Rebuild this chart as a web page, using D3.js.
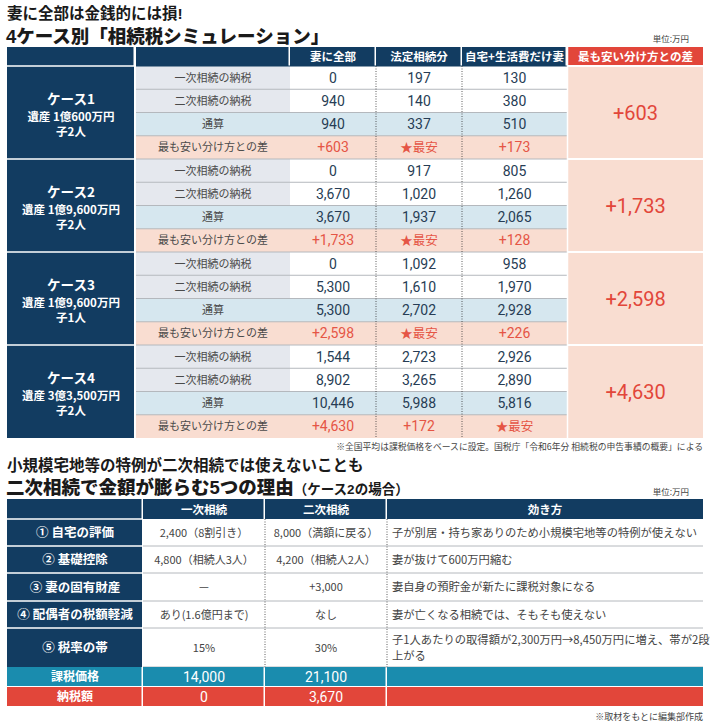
<!DOCTYPE html>
<html>
<head>
<meta charset="utf-8">
<script src="https://cdn.jsdelivr.net/npm/d3@7"></script>
<style>
  body { margin: 0; background: #fff; }
  text { font-family: "Noto Sans CJK JP", "Noto Sans", sans-serif; }
  .num { font-family: "Liberation Sans Narrow", "Roboto", "Noto Sans CJK JP", sans-serif; }
  .ttl { font-family: "Liberation Sans", "Noto Sans CJK JP", sans-serif; }
</style>
</head>
<body>
<div id="chart"></div>
<script>
// ---------------- data (万円) ----------------
var caseNames = ["ケース1", "ケース2", "ケース3", "ケース4"];
var caseEstates = ["遺産 1億600万円", "遺産 1億9,600万円", "遺産 1億9,600万円", "遺産 3億3,500万円"];
var caseChildren = ["子2人", "子2人", "子1人", "子2人"];
var rowLabels = ["一次相続の納税", "二次相続の納税", "通算", "最も安い分け方との差"];
var planNames = ["妻に全部", "法定相続分", "自宅+生活費だけ妻"];
var diffHeader = "最も安い分け方との差";
var firstTax  = [[0, 197, 130], [0, 917, 805], [0, 1092, 958], [1544, 2723, 2926]];
var secondTax = [[940, 140, 380], [3670, 1020, 1260], [5300, 1610, 1970], [8902, 3265, 2890]];
var totalTax  = [[940, 337, 510], [3670, 1937, 2065], [5300, 2702, 2928], [10446, 5988, 5816]];
var gapToBest = [[603, null, 173], [1733, null, 128], [2598, null, 226], [4630, 172, null]]; // null = ★最安
var caseGap = [603, 1733, 2598, 4630];

var reasonLabels = ["① 自宅の評価", "② 基礎控除", "③ 妻の固有財産", "④ 配偶者の税額軽減", "⑤ 税率の帯"];
var reasonHeads = ["一次相続", "二次相続", "効き方"];
var reasonFirst = ["2,400（8割引き）", "4,800（相続人3人）", "—", "あり(1.6億円まで)", "15%"];
var reasonSecond = ["8,000（満額に戻る）", "4,200（相続人2人）", "+3,000", "なし", "30%"];
var reasonEffect = [
  ["子が別居・持ち家ありのため小規模宅地等の特例が使えない"],
  ["妻が抜けて600万円縮む"],
  ["妻自身の預貯金が新たに課税対象になる"],
  ["妻が亡くなる相続では、そもそも使えない"],
  ["子1人あたりの取得額が2,300万円→8,450万円に増え、帯が2段", "上がる"]
];
var taxableBase = [14000, 21100];
var taxPaid = [0, 3670];

// ---------------- setup ----------------
var W = 710, H = 725;
var navy = "#123c61", red = "#e2463a", salmon = "#f9ddd1", paleBlue = "#d6e7ef",
    paleGrey = "#e5e8ee", teal = "#1a8cae", lineGrey = "#b4b8bd", numColor = "#273d55";
var fmt = d3.format(",");

var svg = d3.select("#chart").append("svg").attr("width", W).attr("height", H);

// titles
svg.append("text").attr("class", "ttl").attr("x", 7).attr("y", 19).attr("font-size", 15.5).attr("font-weight", 700)
  .attr("fill", "#1a1a1a").text("妻に全部は金銭的には損!");
svg.append("text").attr("class", "ttl").attr("x", 6).attr("y", 43).attr("font-size", 18.5).attr("font-weight", 900)
  .attr("fill", "#1a1a1a").text("4ケース別「相続税シミュレーション」");
svg.append("text").attr("x", 689).attr("y", 42).attr("font-size", 8.5).attr("text-anchor", "end")
  .attr("fill", "#444").text("単位:万円");

// ---------------- table 1 ----------------
var t1 = { top: 47, headH: 19, bottom: 438 };
var colX = d3.scaleOrdinal().domain(["case", "label", 0, 1, 2, "gap"]).range([7, 136, 290, 376, 462, 568]);
var colW = d3.scaleOrdinal().domain(["case", "label", 0, 1, 2, "gap"]).range([128, 154, 86, 86, 105, 135]);
var caseY = d3.scaleBand().domain(d3.range(caseNames.length)).range([t1.top + t1.headH, t1.bottom]);
var rowY = d3.scaleBand().domain(d3.range(rowLabels.length)).range([0, caseY.bandwidth()]);

// header
var heads = [{ k: "case", t: "" }, { k: "label", t: "" }]
  .concat(planNames.map(function (p, i) { return { k: i, t: p }; }))
  .concat([{ k: "gap", t: diffHeader }]);
var hd = svg.append("g").selectAll("g").data(heads).join("g");
hd.append("rect").attr("x", function (d) { return colX(d.k); }).attr("y", t1.top)
  .attr("width", function (d) { return colW(d.k) - (d.k === "gap" ? 0 : 1.5); }).attr("height", t1.headH)
  .attr("fill", function (d) { return d.k === "gap" ? red : navy; });
hd.append("text").attr("x", function (d) { return colX(d.k) + colW(d.k) / 2; }).attr("y", t1.top + 14)
  .attr("text-anchor", "middle").attr("font-size", 11.5).attr("font-weight", 700).attr("fill", "#fff")
  .text(function (d) { return d.t; });

var rowFill = [null, null, paleBlue, salmon];
var cases = svg.append("g").selectAll("g").data(caseNames).join("g")
  .attr("transform", function (d, i) { return "translate(0," + caseY(i) + ")"; });

// case block
cases.append("rect").attr("x", colX("case")).attr("y", 0).attr("width", colW("case") - 1).attr("height", caseY.bandwidth())
  .attr("fill", navy);
cases.append("line").attr("x1", colX("case")).attr("x2", colX("case") + colW("case") - 1).attr("y1", 0).attr("y2", 0)
  .attr("stroke", "#fff").attr("stroke-width", 1.5);
cases.append("text").attr("x", colX("case") + colW("case") / 2).attr("y", 38).attr("text-anchor", "middle")
  .attr("font-size", 13.5).attr("font-weight", 700).attr("fill", "#fff").text(function (d) { return d; });
cases.append("text").attr("x", colX("case") + colW("case") / 2).attr("y", 55).attr("text-anchor", "middle")
  .attr("font-size", 11.5).attr("font-weight", 700).attr("fill", "#fff").text(function (d, i) { return caseEstates[i]; });
cases.append("text").attr("x", colX("case") + colW("case") / 2).attr("y", 70).attr("text-anchor", "middle")
  .attr("font-size", 11.5).attr("font-weight", 700).attr("fill", "#fff").text(function (d, i) { return caseChildren[i]; });

// rows
cases.each(function (c, ci) {
  var g = d3.select(this);
  var values = [firstTax[ci], secondTax[ci], totalTax[ci], gapToBest[ci]];
  rowLabels.forEach(function (lab, ri) {
    var y = rowY(ri), h = rowY.bandwidth();
    g.append("rect").attr("x", colX("label")).attr("y", y).attr("width", colW("label")).attr("height", h)
      .attr("fill", rowFill[ri] || paleGrey);
    g.append("rect").attr("x", colX(0)).attr("y", y).attr("width", colX(2) + colW(2) - colX(0)).attr("height", h)
      .attr("fill", rowFill[ri] || "#fff");
    g.append("text").attr("x", colX("label") + colW("label") / 2).attr("y", y + h / 2 + 4).attr("text-anchor", "middle")
      .attr("font-size", 11).attr("fill", "#4a4a4a").text(lab);
    values[ri].forEach(function (v, pi) {
      var best = (ri === 3 && v === null);
      g.append("text").attr("class", best ? null : "num")
        .attr("x", colX(pi) + colW(pi) / 2).attr("y", y + h / 2 + 5).attr("text-anchor", "middle")
        .attr("font-size", best ? 12.5 : 14).attr("fill", ri === 3 ? "#e55545" : numColor)
        .text(ri === 3 ? (best ? "★最安" : "+" + fmt(v)) : fmt(v));
    });
    if (ri > 0) {
      g.append("line").attr("x1", colX("label")).attr("x2", colX(2) + colW(2)).attr("y1", y).attr("y2", y)
        .attr("stroke", lineGrey).attr("stroke-width", 1);
    }
  });
  g.append("line").attr("x1", colX("label")).attr("x2", colX(2) + colW(2)).attr("y1", 0).attr("y2", 0)
    .attr("stroke", ci === 0 ? navy : lineGrey).attr("stroke-width", 1);
  // gap column
  g.append("rect").attr("x", colX("gap")).attr("y", 0).attr("width", colW("gap")).attr("height", caseY.bandwidth())
    .attr("fill", salmon);
  g.append("line").attr("x1", colX("gap")).attr("x2", colX("gap") + colW("gap")).attr("y1", 0).attr("y2", 0)
    .attr("stroke", "#fff").attr("stroke-width", 2);
  g.append("text").attr("class", "num").attr("x", colX("gap") + colW("gap") / 2).attr("y", caseY.bandwidth() / 2 + 7)
    .attr("text-anchor", "middle").attr("font-size", 20).attr("fill", red).text("+" + fmt(caseGap[ci]));
});

// separators in value area
[1, 2].forEach(function (k) {
  svg.append("line").attr("x1", colX(k)).attr("x2", colX(k)).attr("y1", t1.top + t1.headH).attr("y2", t1.bottom)
    .attr("stroke", "#333").attr("stroke-width", 0.8).attr("stroke-dasharray", "1,1.5");
});
svg.append("line").attr("x1", colX("gap") - 0.5).attr("x2", colX("gap") - 0.5).attr("y1", t1.top).attr("y2", t1.bottom)
  .attr("stroke", "#fff").attr("stroke-width", 1.5);

svg.append("text").attr("x", 703).attr("y", 450).attr("text-anchor", "end").attr("font-size", 8.8).attr("fill", "#444")
  .text("※全国平均は課税価格をベースに設定。国税庁「令和6年分 相続税の申告事績の概要」による");

// ---------------- table 2 ----------------
svg.append("text").attr("class", "ttl").attr("x", 7).attr("y", 471).attr("font-size", 15.5).attr("font-weight", 700).attr("fill", "#1a1a1a")
  .text("小規模宅地等の特例が二次相続では使えないことも");
var t2title = svg.append("text").attr("class", "ttl").attr("x", 6).attr("y", 493.5).attr("fill", "#1a1a1a").attr("font-weight", 900);
t2title.append("tspan").attr("font-size", 18.5).text("二次相続で金額が膨らむ5つの理由");
t2title.append("tspan").attr("font-size", 13.5).attr("font-weight", 700).text("（ケース2の場合）");
svg.append("text").attr("x", 689).attr("y", 495).attr("font-size", 8.5).attr("text-anchor", "end")
  .attr("fill", "#444").text("単位:万円");

var c2X = d3.scaleOrdinal().domain(["label", 0, 1, 2]).range([7, 143, 265, 387]);
var c2W = d3.scaleOrdinal().domain(["label", 0, 1, 2]).range([136, 122, 122, 316]);
var rowTop = [519, 546, 573, 601, 628];
var rowBot = [546, 573, 601, 628, 667];
var t2 = { top: 499, headBot: 519, tealY: 667, redY: 687, bottom: 706 };

// header
var h2 = svg.append("g").selectAll("g").data(["label", 0, 1, 2]).join("g");
h2.append("rect").attr("x", function (d) { return c2X(d); }).attr("y", t2.top)
  .attr("width", function (d) { return c2W(d) - (d === 2 ? 0 : 1.5); }).attr("height", t2.headBot - t2.top).attr("fill", navy);
h2.append("text").attr("x", function (d) { return c2X(d) + c2W(d) / 2; }).attr("y", t2.top + 14.5).attr("text-anchor", "middle")
  .attr("font-size", 11.5).attr("font-weight", 700).attr("fill", "#fff")
  .text(function (d) { return d === "label" ? "" : reasonHeads[d]; });

var rows2 = svg.append("g").selectAll("g").data(reasonLabels).join("g");
rows2.append("rect").attr("x", c2X("label")).attr("y", function (d, i) { return rowTop[i]; })
  .attr("width", c2W("label") - 1).attr("height", function (d, i) { return rowBot[i] - rowTop[i]; }).attr("fill", navy);
rows2.append("line").attr("x1", c2X("label")).attr("x2", c2X("label") + c2W("label") - 1)
  .attr("y1", function (d, i) { return rowTop[i]; }).attr("y2", function (d, i) { return rowTop[i]; })
  .attr("stroke", "#fff").attr("stroke-width", 1.5);
rows2.append("line").attr("x1", c2X(0)).attr("x2", c2X(2) + c2W(2))
  .attr("y1", function (d, i) { return rowBot[i]; }).attr("y2", function (d, i) { return rowBot[i]; })
  .attr("stroke", lineGrey).attr("stroke-width", 1);
rows2.append("text").attr("x", c2X("label") + c2W("label") / 2)
  .attr("y", function (d, i) { return (rowTop[i] + rowBot[i]) / 2 + 4.5; }).attr("text-anchor", "middle")
  .attr("font-size", 12.5).attr("font-weight", 700).attr("fill", "#fff").text(function (d) { return d; });
rows2.append("text").attr("x", c2X(0) + c2W(0) / 2)
  .attr("y", function (d, i) { return (rowTop[i] + rowBot[i]) / 2 + 4; }).attr("text-anchor", "middle")
  .attr("font-size", 11).attr("fill", "#444").text(function (d, i) { return reasonFirst[i]; });
rows2.append("text").attr("x", c2X(1) + c2W(1) / 2)
  .attr("y", function (d, i) { return (rowTop[i] + rowBot[i]) / 2 + 4; }).attr("text-anchor", "middle")
  .attr("font-size", 11).attr("fill", "#444").text(function (d, i) { return reasonSecond[i]; });
rows2.each(function (d, i) {
  var lines = reasonEffect[i];
  var cy = (rowTop[i] + rowBot[i]) / 2 + 4 - (lines.length - 1) * 8;
  d3.select(this).selectAll("text.eff").data(lines).join("text").attr("class", "eff")
    .attr("x", c2X(2) + 5).attr("y", function (l, j) { return cy + j * 16; })
    .attr("font-size", 11.3).attr("fill", "#444").text(function (l) { return l; });
});

[1, 2].forEach(function (k) {
  svg.append("line").attr("x1", c2X(k)).attr("x2", c2X(k)).attr("y1", t2.headBot).attr("y2", t2.tealY)
    .attr("stroke", "#333").attr("stroke-width", 0.8).attr("stroke-dasharray", "1,1.5");
});

// bottom rows
var bottomRows = [
  { label: "課税価格", vals: taxableBase, y: t2.tealY, h: 19, fill: teal },
  { label: "納税額", vals: taxPaid, y: t2.redY, h: 19, fill: red }
];
bottomRows.forEach(function (r) {
  var cells = ["label", 0, 1, 2];
  cells.forEach(function (k) {
    svg.append("rect").attr("x", c2X(k)).attr("y", r.y).attr("width", c2W(k) - (k === 2 ? 0 : 1.5)).attr("height", r.h)
      .attr("fill", r.fill);
  });
  svg.append("text").attr("x", c2X("label") + c2W("label") / 2).attr("y", r.y + 14).attr("text-anchor", "middle")
    .attr("font-size", 12).attr("font-weight", 700).attr("fill", "#fff").text(r.label);
  r.vals.forEach(function (v, i) {
    svg.append("text").attr("class", "num").attr("x", c2X(i) + c2W(i) / 2).attr("y", r.y + 14.5).attr("text-anchor", "middle")
      .attr("font-size", 14).attr("fill", "#fff").text(fmt(v));
  });
});

svg.append("text").attr("x", 703).attr("y", 720).attr("text-anchor", "end").attr("font-size", 9).attr("fill", "#444")
  .text("※取材をもとに編集部作成");
</script>
</body>
</html>
